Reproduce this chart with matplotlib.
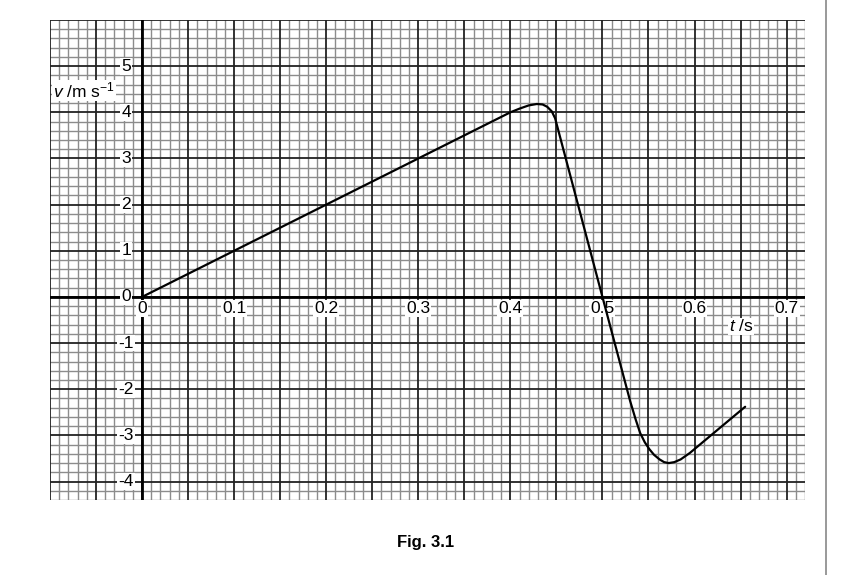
import numpy as np
import matplotlib.pyplot as plt

plt.rcParams['font.family'] = ['Liberation Sans', 'DejaVu Sans']
plt.rcParams['mathtext.fontset'] = 'custom'
plt.rcParams['mathtext.rm'] = 'Liberation Sans'
plt.rcParams['mathtext.it'] = 'Liberation Sans:italic'

# velocity-time curve
t = [0, 0.1, 0.2, 0.3, 0.4, 0.41, 0.42, 0.4287, 0.435, 0.44, 0.445, 0.4486, 0.451,
     0.5, 0.53, 0.536, 0.541, 0.546, 0.551, 0.556, 0.562, 0.567, 0.572, 0.578,
     0.585, 0.595, 0.655]
v = [0, 1, 2, 3, 4.0, 4.08, 4.15, 4.18, 4.17, 4.12, 4.02, 3.87, 3.69,
     0, -2.25, -2.65, -2.95, -3.15, -3.3, -3.42, -3.52, -3.58, -3.60, -3.58,
     -3.52, -3.38, -2.38]

x_ticks = [0, 0.1, 0.2, 0.3, 0.4, 0.5, 0.6, 0.7]
x_labels = ['0', '0.1', '0.2', '0.3', '0.4', '0.5', '0.6', '0.7']
y_ticks = [5, 4, 3, 2, 1, 0, -1, -2, -3, -4]
y_labels = ['5', '4', '3', '2', '1', '0', '-1', '-2', '-3', '-4']

xmin, xmax = -0.1, 0.72
ymin, ymax = -4.4, 6.0

fig = plt.figure(figsize=(8.65, 5.75), dpi=100)
ax = fig.add_axes([50 / 865, 75 / 575, 755 / 865, 480 / 575])
ax.set_xlim(xmin, xmax)
ax.set_ylim(ymin, ymax)
ax.set_xticks([])
ax.set_yticks([])
for s in ax.spines.values():
    s.set_visible(False)

# graph paper: minor 2 mm squares, major 1 cm squares
for x in np.arange(-100, 721, 10) / 1000:
    major = abs(round(x * 1000) % 50) == 0
    ax.axvline(x, color='#222222' if major else '#8c8c8c',
               lw=1.3 if major else 1.0, zorder=1 if major else 0)
for y in np.arange(-44, 61, 2) / 10:
    major = abs(round(y * 10) % 10) == 0
    ax.axhline(y, color='#222222' if major else '#8c8c8c',
               lw=1.3 if major else 1.0, zorder=1 if major else 0)
ax.axhline(0, color='black', lw=2.0, zorder=2)
ax.axvline(0, color='black', lw=2.0, zorder=2)

box = dict(facecolor='white', edgecolor='none', pad=0.6)
for xt, lab in zip(x_ticks, x_labels):
    ax.text(xt, -0.25, lab, ha='center', va='center', fontsize=12.5, bbox=box, zorder=3)
for yt, lab in zip(y_ticks, y_labels):
    ax.text(-0.0174, yt, lab, ha='center', va='center', fontsize=12.5, bbox=box, zorder=3)

ax.text(-0.0965, 4.47, r'$\mathit{v}\ $/m s$^{-1}$', ha='left', va='center',
        fontsize=12.5, bbox=box, zorder=3)
ax.text(0.6506, -0.64, r'$\mathit{t}\ $/s', ha='center', va='center',
        fontsize=12.5, bbox=box, zorder=3)

ax.plot(t, v, color='black', lw=1.6, zorder=4, solid_capstyle='round')

fig.text(426 / 865, 1 - 543 / 575, 'Fig. 3.1', ha='center', va='center',
         fontsize=12, fontweight='bold')
fig.add_artist(plt.Line2D([826 / 865, 826 / 865], [0, 1], color='#888888', lw=1.2))

fig.savefig('out.png', dpi=100)
